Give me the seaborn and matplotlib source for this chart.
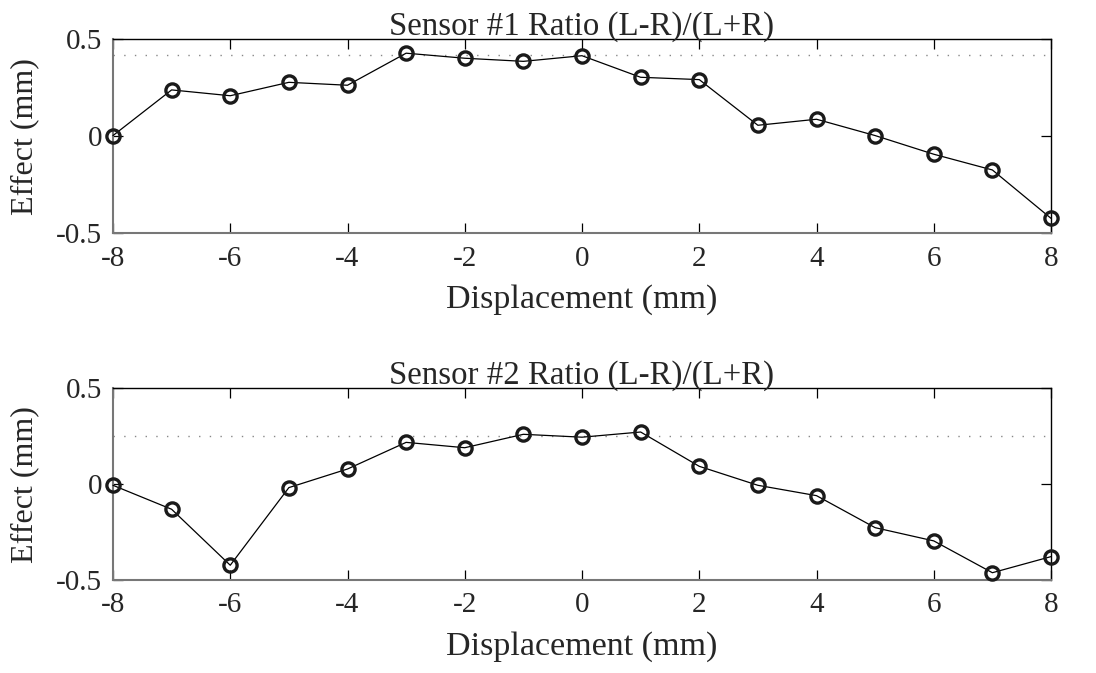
import numpy as np
import pandas as pd
import matplotlib
matplotlib.use("Agg")
import matplotlib.pyplot as plt
import seaborn as sns

displacement = [-8, -7, -6, -5, -4, -3, -2, -1, 0, 1, 2, 3, 4, 5, 6, 7, 8]
sensor1 = [0.003, 0.238, 0.208, 0.277, 0.262, 0.427, 0.401, 0.385, 0.414,
           0.303, 0.291, 0.056, 0.087, 0.003, -0.093, -0.174, -0.423]
sensor2 = [-0.006, -0.131, -0.423, -0.018, 0.079, 0.218, 0.190, 0.260, 0.245,
           0.272, 0.093, -0.006, -0.060, -0.227, -0.296, -0.462, -0.378]
ref_levels = [0.418, 0.251]
titles = ["Sensor #1 Ratio (L-R)/(L+R)", "Sensor #2 Ratio (L-R)/(L+R)"]
xticks = [-8, -6, -4, -2, 0, 2, 4, 6, 8]
yticks = [-0.5, 0, 0.5]
ytick_labels = ["-0.5", "0", "0.5"]
xtick_labels = ["-8", "-6", "-4", "-2", "0", "2", "4", "6", "8"]

sns.set_theme(style="white")
plt.rcParams["font.family"] = ["Liberation Serif", "DejaVu Serif"]

W, H = 1096, 673
fig = plt.figure(figsize=(W / 100, H / 100), dpi=100)
fig.patch.set_facecolor("white")

axes_px = [(113, 39, 1051, 233.3), (113, 388.3, 1051, 580)]

fs_tick = 21
fs_title = 23.7
fs_xlabel = 24.5
fs_ylabel = 23

for i, (vals, ttl) in enumerate(zip([sensor1, sensor2], titles)):
    x0, y0, x1, y1 = axes_px[i]
    ax = fig.add_axes([x0 / W, 1 - y1 / H, (x1 - x0) / W, (y1 - y0) / H])
    df = pd.DataFrame({"Displacement": displacement, "Effect": vals})
    ax.axhline(ref_levels[i], color="#888888", lw=1.0, ls=(0, (1, 6.7)), zorder=1)
    sns.lineplot(data=df, x="Displacement", y="Effect", ax=ax, color="black",
                 lw=0.9, marker="o", markersize=9.5, markerfacecolor="none",
                 markeredgecolor="#1a1a1a", markeredgewidth=2.4, zorder=3,
                 clip_on=False)
    ax.set_xlim(-8, 8)
    ax.set_ylim(-0.5, 0.5)
    ax.set_xticks(xticks)
    ax.set_xticklabels(xtick_labels, fontsize=fs_tick)
    ax.set_yticks(yticks)
    ax.set_yticklabels(ytick_labels, fontsize=fs_tick)
    ax.tick_params(direction="in", length=7, width=0.9, color="black",
                   top=True, right=True, bottom=True, left=True)
    ax.tick_params(axis="x", pad=9)
    ax.tick_params(axis="y", pad=8)
    for s in ["top", "right"]:
        ax.spines[s].set_color("black")
        ax.spines[s].set_linewidth(1.0)
    for s in ["left", "bottom"]:
        ax.spines[s].set_color("#777777")
        ax.spines[s].set_linewidth(1.5)
    ax.set_xlabel("Displacement (mm)", fontsize=fs_xlabel, labelpad=9)
    ax.set_ylabel("Effect (mm)", fontsize=fs_ylabel, labelpad=12)
    ax.set_title(ttl, fontsize=fs_title, pad=3)
    ax.grid(False)
    ax.set_facecolor("white")

fig.savefig("out.png", dpi=100, facecolor="white")
